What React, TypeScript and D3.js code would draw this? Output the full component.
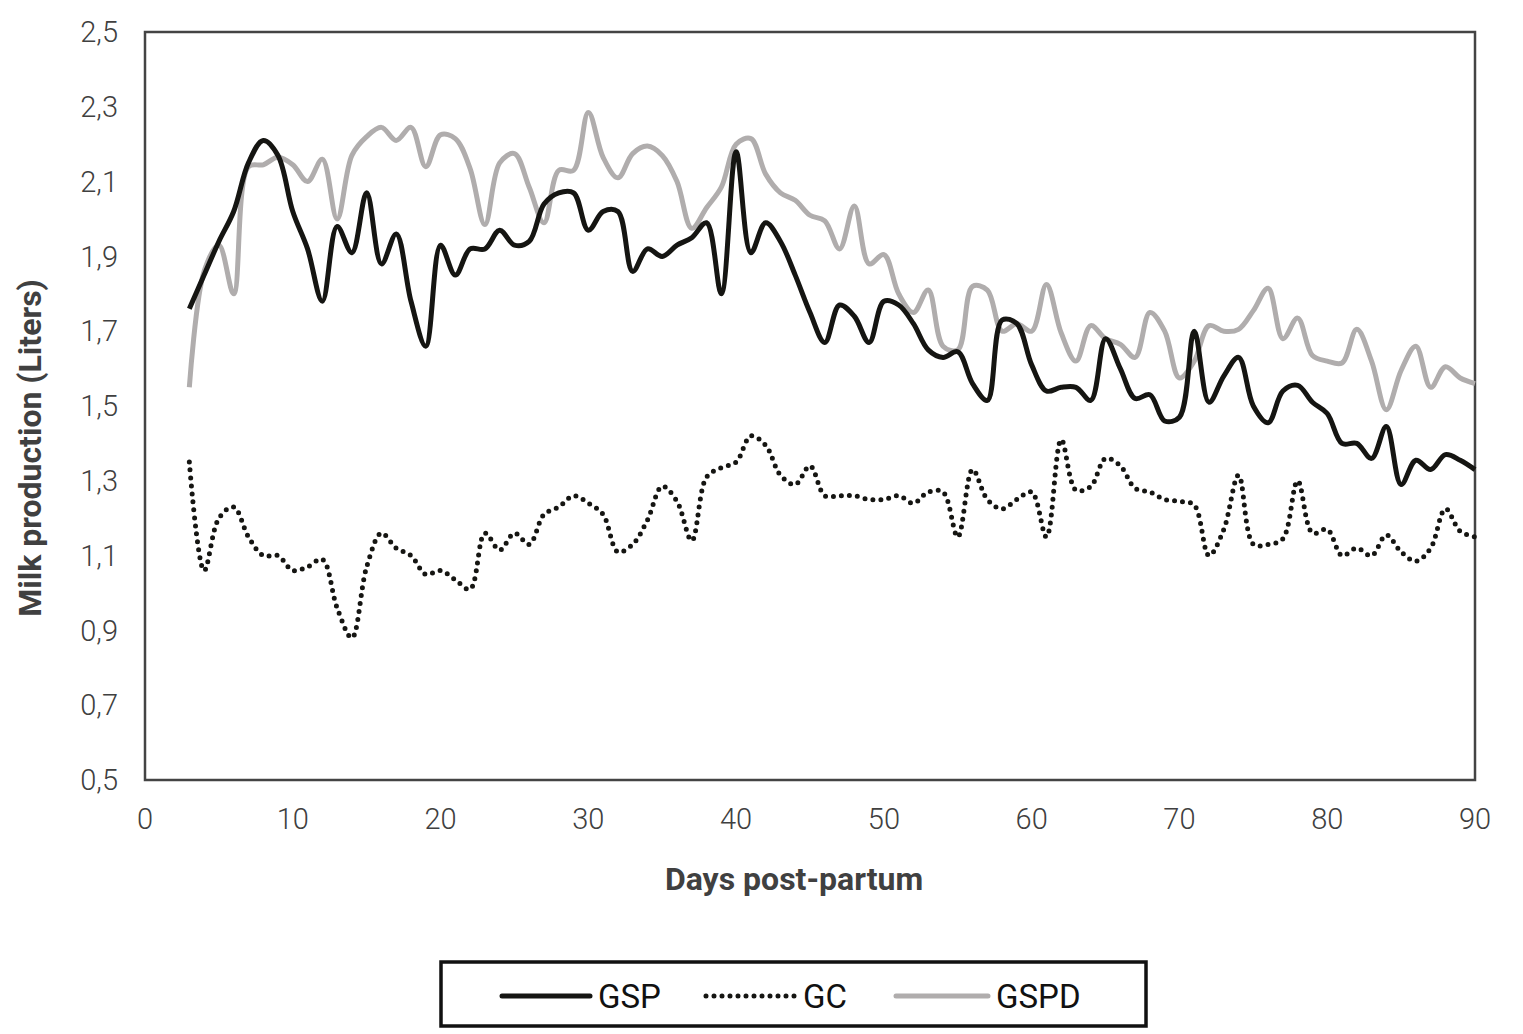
import React from 'react';
import * as d3 from 'd3';

const days: number[] = d3.range(3, 91);

const gsp: number[] = [
  1.76, 1.85, 1.94, 2.02, 2.15, 2.21, 2.17, 2.02, 1.92, 1.78,
  1.98, 1.91, 2.07, 1.88, 1.96, 1.78, 1.66, 1.93, 1.85, 1.92,
  1.92, 1.97, 1.93, 1.94, 2.04, 2.07, 2.07, 1.97, 2.02, 2.02,
  1.86, 1.92, 1.90, 1.93, 1.95, 1.99, 1.80, 2.18, 1.91, 1.99,
  1.94, 1.85, 1.75, 1.67, 1.77, 1.74, 1.67, 1.78, 1.77, 1.72,
  1.65, 1.63, 1.645, 1.56, 1.515, 1.73, 1.72, 1.61, 1.54, 1.55,
  1.55, 1.515, 1.68, 1.60, 1.52, 1.53, 1.46, 1.47, 1.70, 1.51,
  1.58, 1.63, 1.50, 1.455, 1.54, 1.555, 1.51, 1.48, 1.40, 1.40,
  1.36, 1.445, 1.29, 1.355, 1.33, 1.37, 1.355, 1.33,
];

const gc: number[] = [
  1.35, 1.06, 1.20, 1.23, 1.15, 1.10, 1.10, 1.06, 1.07, 1.09,
  0.96, 0.88, 1.07, 1.16, 1.12, 1.10, 1.05, 1.06, 1.035, 1.01,
  1.16, 1.115, 1.16, 1.13, 1.21, 1.23, 1.26, 1.24, 1.21, 1.11,
  1.13, 1.195, 1.285, 1.245, 1.14, 1.31, 1.335, 1.35, 1.42, 1.395,
  1.315, 1.29, 1.34, 1.26, 1.26, 1.26, 1.25, 1.25, 1.26, 1.24,
  1.27, 1.27, 1.15, 1.33, 1.25, 1.225, 1.25, 1.27, 1.15, 1.41,
  1.275, 1.285, 1.36, 1.34, 1.28, 1.27, 1.25, 1.245, 1.235, 1.10,
  1.17, 1.315, 1.13, 1.13, 1.145, 1.30, 1.16, 1.17, 1.10, 1.12,
  1.10, 1.155, 1.11, 1.085, 1.12, 1.225, 1.165, 1.15,
];

const gspd: number[] = [
  1.55, 1.86, 1.93, 1.80, 2.14, 2.145, 2.165, 2.145, 2.10, 2.16,
  2.00, 2.17, 2.22, 2.245, 2.21, 2.245, 2.14, 2.225, 2.215, 2.135,
  1.985, 2.15, 2.175, 2.085, 1.99, 2.13, 2.13, 2.285, 2.165, 2.11,
  2.175, 2.195, 2.17, 2.10, 1.975, 2.03, 2.085, 2.20, 2.215, 2.12,
  2.07, 2.05, 2.01, 1.995, 1.92, 2.035, 1.88, 1.905, 1.80, 1.75,
  1.81, 1.66, 1.65, 1.82, 1.81, 1.70, 1.72, 1.70, 1.825, 1.695,
  1.62, 1.715, 1.68, 1.665, 1.63, 1.75, 1.70, 1.575, 1.62, 1.715,
  1.70, 1.705, 1.755, 1.815, 1.68, 1.735, 1.635, 1.62, 1.615, 1.705,
  1.62, 1.49, 1.595, 1.66, 1.55, 1.605, 1.575, 1.56,
];

const xTicks: number[] = d3.range(0, 91, 10);
const yTicks: number[] = [0.5, 0.7, 0.9, 1.1, 1.3, 1.5, 1.7, 1.9, 2.1, 2.3, 2.5];

const W = 1507;
const H = 1020;
const left = 137;
const top = 24;
const right = 1467;
const bottom = 772;

export default function App() {
  const x = d3.scaleLinear().domain([0, 90]).range([left, right]);
  const y = d3.scaleLinear().domain([0.5, 2.5]).range([bottom, top]);

  const line = (vals: number[]) =>
    d3.line<number>()
      .x((_, i) => x(days[i]))
      .y(d => y(d))
      .curve(d3.curveCatmullRom.alpha(0.5))(vals) || '';

  const fmt = (v: number) => v.toFixed(1).replace('.', ',');
  const tickFont = 'Roboto, sans-serif';
  const legendFont = '"Liberation Sans Narrow", "Roboto", sans-serif';

  return (
    <svg width={W} height={H} style={{ display: 'block' }}>
      <rect x={left} y={top} width={right - left} height={bottom - top}
        fill="none" stroke="#444" strokeWidth={2.5} />

      {yTicks.map(t => (
        <text key={t} x={left - 27} y={y(t)} dy="0.35em" textAnchor="end"
          fontFamily={tickFont} fontWeight={300} fontSize={29} fill="#404040">
          {fmt(t)}
        </text>
      ))}
      {xTicks.map(t => (
        <text key={t} x={x(t)} y={bottom + 49} textAnchor="middle"
          fontFamily={tickFont} fontWeight={300} fontSize={29} fill="#404040">
          {t}
        </text>
      ))}

      <text transform={`translate(33,${(top + bottom) / 2 + 42}) rotate(-90)`} textAnchor="middle"
        fontFamily={tickFont} fontWeight={700} fontSize={32} fill="#404040">
        Milk production (Liters)
      </text>
      <text x={(left + right) / 2 - 16} y={882} textAnchor="middle"
        fontFamily={tickFont} fontWeight={700} fontSize={32} fill="#404040">
        Days post-partum
      </text>

      {/* series */}
      <path d={line(gspd)} fill="none" stroke="#b0adad" strokeWidth={5} strokeLinejoin="round" />
      <path d={line(gsp)} fill="none" stroke="#151512" strokeWidth={5} strokeLinejoin="round" />
      <path d={line(gc)} fill="none" stroke="#151512" strokeWidth={5}
        strokeDasharray="0 8" strokeLinecap="round" />

      {/* legend */}
      <rect x={433} y={954} width={705} height={64} fill="#fff" stroke="#111" strokeWidth={3.5} />
      <line x1={494} x2={582} y1={988} y2={988} stroke="#151512" strokeWidth={5} strokeLinecap="round" />
      <text x={590} y={988} dy="0.36em" fontFamily={legendFont} fontSize={33} fill="#111">GSP</text>
      <line x1={698} x2={787} y1={988} y2={988} stroke="#151512" strokeWidth={5}
        strokeDasharray="0 8" strokeLinecap="round" />
      <text x={795} y={988} dy="0.36em" fontFamily={legendFont} fontSize={33} fill="#111">GC</text>
      <line x1={888} x2={980} y1={988} y2={988} stroke="#b0adad" strokeWidth={5} strokeLinecap="round" />
      <text x={988} y={988} dy="0.36em" fontFamily={legendFont} fontSize={33} fill="#111">GSPD</text>
    </svg>
  );
}
